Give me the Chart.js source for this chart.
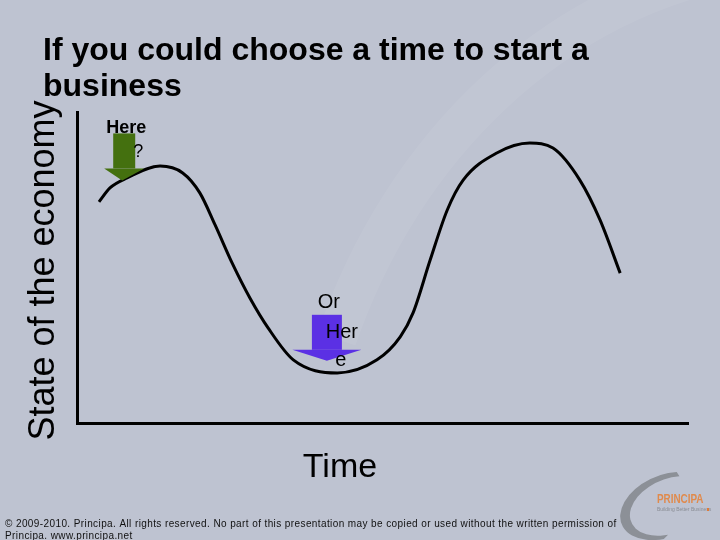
<!DOCTYPE html>
<html>
<head>
<meta charset="utf-8">
<script src="https://cdn.jsdelivr.net/npm/chart.js@4"></script>
<style>
  html, body { margin: 0; padding: 0; background: #bec3d1; }
  canvas { display: block; }
</style>
</head>
<body>
<canvas id="myChart" width="720" height="540"></canvas>
<script>
// curve: time 0-100, state of the economy 0-100
const timeValues    = [3.6, 5.4, 8.2, 13.6, 17.3, 20.1, 22.6, 25.4, 28.3, 31.3, 35.4, 42.6, 49.1, 52.9, 55.0, 57.8, 60.6, 63.2, 68.7, 74.1, 77.9, 82.3, 85.6, 88.9];
const economyValues = [71.1, 75.6, 78.8, 82.6, 80.4, 74.0, 63.7, 51.4, 40.2, 30.5, 20.3, 16.1, 20.3, 27.7, 35.4, 52.4, 68.5, 78.1, 86.8, 90.0, 88.4, 78.1, 65.3, 48.2];

const slideTitle = ['If you could choose a time to start a', 'business'];
const xTitle = 'Time';
const yTitle = 'State of the economy';
const footerLines = [
    '\u00a9 2009-2010. Principa. All rights reserved. No part of this presentation may be copied or used without the written permission of',
    'Principa. www.principa.net'
];

// arrow annotations: where the arrow tip points (time, state)
const arrowLabels = [['Here', '?'], ['Or', 'Her', 'e']];
const arrowTime   = [7.4, 40.9];
const arrowState  = [78, 20];

const FONT = '"Liberation Sans", Arial, sans-serif';

const arrowStyles = [
    { color: '#44700f', shaftW: 22, shaftH: 35, headW: 40, headH: 12, shaftDx: 2,
      fonts: ['bold 18px ' + FONT, '18px ' + FONT], text: [[4, -47], [16, -23]] },
    { color: '#5b30e4', shaftW: 30, shaftH: 35, headW: 69, headH: 11, shaftDx: 0,
      fonts: ['20px ' + FONT, '20px ' + FONT, '20px ' + FONT], text: [[2, -53], [15, -23], [14, 5]] }
];

const slidePlugin = {
    id: 'slide',
    beforeDraw(chart) {
        const c = chart.ctx;
        c.save();
        c.fillStyle = '#bec3d1';
        c.fillRect(0, 0, chart.width, chart.height);
        // faint light swoosh of the template
        c.strokeStyle = 'rgba(255,255,255,0.06)';
        c.lineWidth = 40;
        c.beginPath();
        c.ellipse(820, 560, 520, 600, 0, Math.PI * 1.12, Math.PI * 1.45);
        c.stroke();
        c.restore();
    },
    afterDraw(chart) {
        const c = chart.ctx;
        const xs = chart.scales.x, ys = chart.scales.y;
        c.save();
        c.fillStyle = '#000';
        c.textBaseline = 'alphabetic';

        // slide title
        c.font = 'bold 32px ' + FONT;
        c.textAlign = 'left';
        slideTitle.forEach((line, i) => c.fillText(line, 43, 60 + i * 36));

        // axis titles
        c.font = '34px ' + FONT;
        c.textAlign = 'center';
        c.fillText(xTitle, 340, 477);
        c.save();
        c.translate(54, (ys.top + ys.bottom) / 2 + 3);
        c.rotate(-Math.PI / 2);
        c.font = '36px ' + FONT;
        c.fillText(yTitle, 0, 0);
        c.restore();

        // arrows + their labels
        arrowLabels.forEach((lines, i) => {
            const s = arrowStyles[i];
            const tx = xs.getPixelForValue(arrowTime[i]);
            const ty = ys.getPixelForValue(arrowState[i]);
            const cx = tx + s.shaftDx;
            c.fillStyle = s.color;
            c.fillRect(cx - s.shaftW / 2, ty - s.headH - s.shaftH, s.shaftW, s.shaftH);
            c.beginPath();
            c.moveTo(cx - s.headW / 2, ty - s.headH);
            c.lineTo(cx + s.headW / 2, ty - s.headH);
            c.lineTo(tx, ty);
            c.closePath();
            c.fill();
            c.fillStyle = '#000';
            c.textAlign = 'center';
            lines.forEach((t, j) => {
                c.font = s.fonts[j];
                c.fillText(t, tx + s.text[j][0], ty + s.text[j][1]);
            });
        });

        // footer
        c.font = '10px ' + FONT;
        c.textAlign = 'left';
        c.fillStyle = '#111';
        const w0 = c.measureText(footerLines[0]).width;
        c.letterSpacing = ((611 - w0) / footerLines[0].length).toFixed(2) + 'px';
        footerLines.forEach((line, i) => c.fillText(line, 5, 527 + i * 12));
        c.letterSpacing = '0px';

        // logo
        c.fillStyle = '#8c9097';
        c.beginPath();
        c.ellipse(666, 506, 48, 31, -0.4, Math.PI * 0.6, Math.PI * 1.66);
        c.ellipse(670, 506, 42, 27, -0.4, Math.PI * 1.66, Math.PI * 0.6, true);
        c.closePath();
        c.fill();
        c.fillStyle = '#e08a4c';
        c.font = 'bold 13px ' + FONT;
        c.save();
        c.translate(657, 503);
        c.scale(0.76, 1);
        c.fillText('PRINCIPA', 0, 0);
        c.restore();
        c.fillStyle = '#8a8d94';
        c.font = '5px ' + FONT;
        c.fillText('Building Better Business', 657, 511);
        c.fillStyle = '#e07b39';
        c.fillRect(707, 508, 2, 3);
        c.restore();
    }
};

const ctx = document.getElementById('myChart').getContext('2d');

const myChart = new Chart(ctx, {
    type: 'line',
    data: {
        datasets: [{
            data: timeValues.map((t, i) => ({ x: t, y: economyValues[i] })),
            borderColor: '#000',
            borderWidth: 3,
            pointRadius: 0,
            fill: false,
            cubicInterpolationMode: 'monotone'
        }]
    },
    options: {
        responsive: false,
        animation: false,
        layout: {
            padding: { left: 77, right: 32, top: 112, bottom: 117 }
        },
        scales: {
            x: {
                type: 'linear',
                min: 0,
                max: 100,
                grid: { display: false, drawTicks: false },
                ticks: { display: false },
                border: { color: '#000', width: 3 }
            },
            y: {
                min: 0,
                max: 100,
                grid: { display: false, drawTicks: false },
                ticks: { display: false },
                border: { color: '#000', width: 3 }
            }
        },
        plugins: {
            legend: { display: false },
            tooltip: { enabled: false }
        }
    },
    plugins: [slidePlugin]
});
</script>
</body>
</html>
